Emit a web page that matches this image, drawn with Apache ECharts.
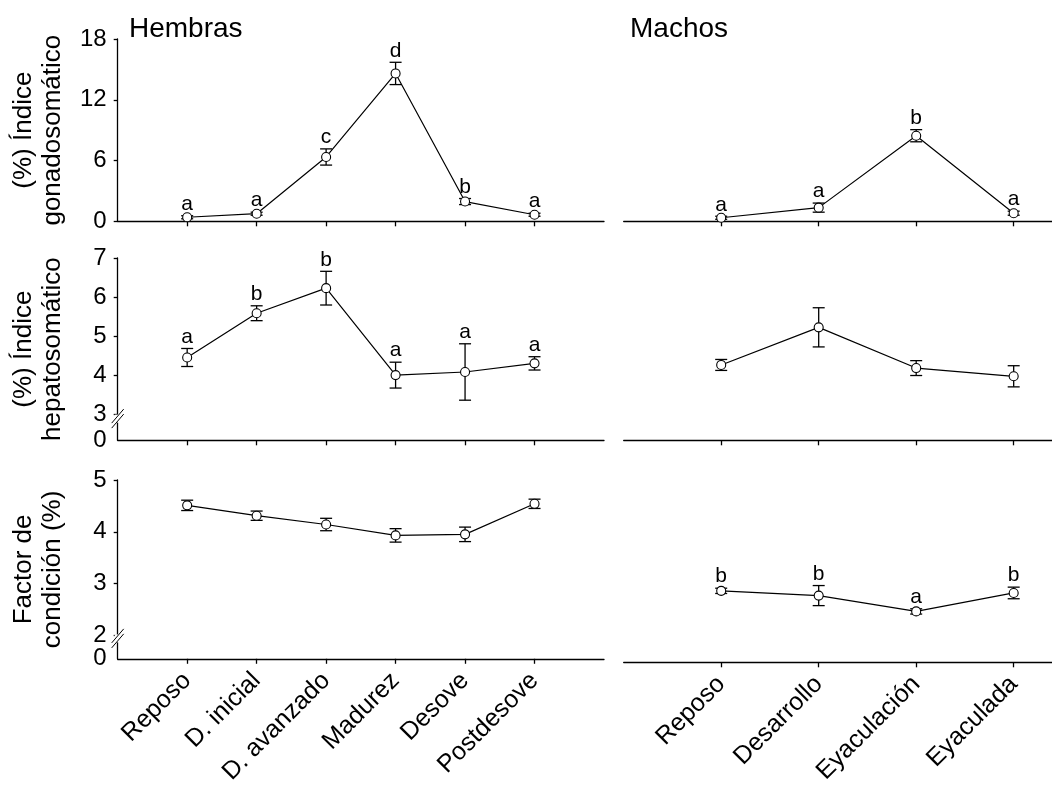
<!DOCTYPE html>
<html>
<head>
<meta charset="utf-8">
<script src="https://cdn.jsdelivr.net/npm/echarts@6/dist/echarts.min.js"></script>
<style>
html,body{margin:0;padding:0;background:#fff;}
#c{width:1052px;height:787px;}
</style>
</head>
<body>
<div id="c"></div>
<script>
// ---------- data ----------
const catF = ['Reposo', 'D. inicial', 'D. avanzado', 'Madurez', 'Desove', 'Postdesove'];
const catM = ['Reposo', 'Desarrollo', 'Eyaculación', 'Eyaculada'];

const gsiF = [0.40, 0.75, 6.35, 14.6, 1.95, 0.65];
const gsiFErr = [0.15, 0.15, 0.80, 1.10, 0.30, 0.15];
const gsiFLet = ['a', 'a', 'c', 'd', 'b', 'a'];
const gsiM = [0.35, 1.35, 8.45, 0.80];
const gsiMErr = [0.15, 0.45, 0.60, 0.20];
const gsiMLet = ['a', 'a', 'b', 'a'];

const hsiF = [4.46, 5.59, 6.23, 4.01, 4.09, 4.31];
const hsiFErr = [0.23, 0.19, 0.43, 0.33, 0.72, 0.17];
const hsiFLet = ['a', 'b', 'b', 'a', 'a', 'a'];
const hsiM = [4.27, 5.23, 4.19, 3.98];
const hsiMErr = [0.14, 0.50, 0.19, 0.27];
const hsiMLet = ['', '', '', ''];

const kF = [4.51, 4.31, 4.14, 3.93, 3.95, 4.54];
const kFErr = [0.10, 0.09, 0.12, 0.13, 0.14, 0.09];
const kFLet = ['', '', '', '', '', ''];
const kM = [2.90, 2.81, 2.51, 2.86];
const kMErr = [0.05, 0.19, 0.05, 0.11];
const kMLet = ['b', 'b', 'a', 'b'];

const gsiTicks = [0, 6, 12, 18];
const hsiTicks = [3, 4, 5, 6, 7];
const kTicks = [2, 3, 4, 5];

const yNames = ['(%) Índice\ngonadosomático', '(%) Índice\nhepatosomático', 'Factor de\ncondición (%)'];
const titles = ['Hembras', 'Machos'];

// ---------- layout ----------
const FONT = "'Liberation Sans', Arial, Helvetica, sans-serif";
const LX = 117.7, LW = 486.3, RX = 623.7, RW = 428.3;
const tops = [39, 258, 480];
const H = 182.3;
// broken-axis bottoms (value shown as "0")
const hsiMin = 2.346, kMin = 1.546;

const grids = [];
for (let r = 0; r < 3; r++) {
  grids.push({left: LX, top: tops[r], width: LW, height: H});
  grids.push({left: RX, top: tops[r], width: RW, height: H});
}

const axisLineStyle = {color: '#000', width: 1.3};

const xAxes = [];
for (let r = 0; r < 3; r++) {
  for (let s = 0; s < 2; s++) {
    const cats = s === 0 ? catF : catM;
    const idx = cats.map((c, i) => i);
    xAxes.push({
      type: 'value', gridIndex: r * 2 + s,
      min: -1, max: s === 0 ? 6 : 3.393,
      axisLine: {show: true, onZero: false, lineStyle: axisLineStyle},
      axisTick: {show: true, inside: false, length: 5, customValues: idx, lineStyle: axisLineStyle},
      axisLabel: {
        show: r === 2, customValues: idx, rotate: 45, margin: 18,
        fontSize: 25, fontFamily: FONT, color: '#000',
        formatter: v => cats[Math.round(v)] || ''
      },
      splitLine: {show: false}
    });
  }
}

const yDefs = [
  {min: 0, max: 18, ticks: gsiTicks},
  {min: hsiMin, max: 7, ticks: hsiTicks},
  {min: kMin, max: 5, ticks: kTicks}
];
const yLabelStyle = {fontSize: 24, fontFamily: FONT, color: '#000', margin: 11};
const yAxes = [];
for (let r = 0; r < 3; r++) {
  const d = yDefs[r];
  yAxes.push({
    type: 'value', gridIndex: r * 2, min: d.min, max: d.max, position: 'left',
    name: yNames[r], nameLocation: 'middle', nameGap: 50, nameMoveOverlap: false,
    nameTextStyle: {fontSize: 26, lineHeight: 29, fontFamily: FONT, color: '#000', align: 'center'},
    axisLine: {show: true, onZero: false, lineStyle: axisLineStyle},
    axisTick: {show: true, length: 4, customValues: d.ticks, lineStyle: axisLineStyle},
    axisLabel: Object.assign({customValues: d.ticks, formatter: v => String(v)}, yLabelStyle),
    splitLine: {show: false}
  });
  yAxes.push({
    type: 'value', gridIndex: r * 2 + 1, min: d.min, max: d.max,
    axisLine: {show: false}, axisTick: {show: false}, axisLabel: {show: false}, splitLine: {show: false}
  });
}
// extra left axes carrying only the "0" label at the bottom of the broken axes
[[2, hsiMin, 7], [4, kMin, 5]].forEach(([gi, mn, mx]) => {
  yAxes.push({
    type: 'value', gridIndex: gi, min: mn, max: mx, position: 'left', offset: 0,
    axisLine: {show: false, onZero: false}, axisTick: {show: false}, splitLine: {show: false},
    axisLabel: Object.assign({customValues: [mn], formatter: () => '0'}, yLabelStyle)
  });
});

const panels = [
  [gsiF, gsiFErr, gsiFLet], [gsiM, gsiMErr, gsiMLet],
  [hsiF, hsiFErr, hsiFLet], [hsiM, hsiMErr, hsiMLet],
  [kF, kFErr, kFLet], [kM, kMErr, kMLet]
];

const series = [];
panels.forEach((p, gi) => {
  const [vals, errs, lets] = p;
  series.push({
    type: 'custom', xAxisIndex: gi, yAxisIndex: gi, z: 2, clip: false,
    data: vals.map((v, i) => [i, v, errs[i]]),
    renderItem: (params, api) => {
      const x = api.value(0), m = api.value(1), e = api.value(2);
      const t = api.coord([x, m + e]);
      const b = api.coord([x, m - e]);
      const hw = 6;
      const st = {stroke: '#000', lineWidth: 1.3};
      const children = [
        {type: 'line', shape: {x1: t[0], y1: t[1], x2: b[0], y2: b[1]}, style: st},
        {type: 'line', shape: {x1: t[0] - hw, y1: t[1], x2: t[0] + hw, y2: t[1]}, style: st},
        {type: 'line', shape: {x1: b[0] - hw, y1: b[1], x2: b[0] + hw, y2: b[1]}, style: st}
      ];
      const L = lets[params.dataIndex];
      if (L) {
        children.push({type: 'text', x: t[0], y: t[1] - 1,
          style: {text: L, fontSize: 21, fontFamily: FONT, fill: '#000', align: 'center', verticalAlign: 'bottom', textAlign: 'center', textVerticalAlign: 'bottom'}});
      }
      return {type: 'group', children: children};
    }
  });
  series.push({
    type: 'line', xAxisIndex: gi, yAxisIndex: gi, z: 3,
    data: vals.map((v, i) => [i, v]),
    symbol: 'circle', symbolSize: 9, showSymbol: true,
    itemStyle: {color: '#fff', borderColor: '#000', borderWidth: 1.1},
    lineStyle: {color: '#000', width: 1.2},
    emphasis: {disabled: true}, animation: false
  });
});

const chart = echarts.init(document.getElementById('c'), null, {renderer: 'canvas'});
chart.setOption({
  animation: false,
  backgroundColor: '#fff',
  title: [
    {text: titles[0], left: 129, top: 15, padding: 0, textStyle: {fontSize: 28, fontWeight: 'normal', fontFamily: FONT, color: '#000'}},
    {text: titles[1], left: 630, top: 15, padding: 0, textStyle: {fontSize: 28, fontWeight: 'normal', fontFamily: FONT, color: '#000'}}
  ],
  grid: grids,
  xAxis: xAxes,
  yAxis: yAxes,
  series: series
});

// axis break marks on the left y-axes
const brk = [[2, 2.9], [4, 1.94]];
const g = [];
brk.forEach(([gi, v]) => {
  const p = chart.convertToPixel({gridIndex: gi}, [-1, v]);
  const ax = p[0], cy = p[1];
  g.push({type: 'rect', shape: {x: ax - 3, y: cy - 4, width: 6, height: 8}, style: {fill: '#fff'}, z: 100});
  [-2.5, 2.5].forEach(o => {
    g.push({type: 'line', shape: {x1: ax - 6, y1: cy + 7 + o, x2: ax + 6, y2: cy - 7 + o}, style: {stroke: '#000', lineWidth: 1}, z: 101});
  });
});
chart.setOption({graphic: g});
</script>
</body>
</html>
